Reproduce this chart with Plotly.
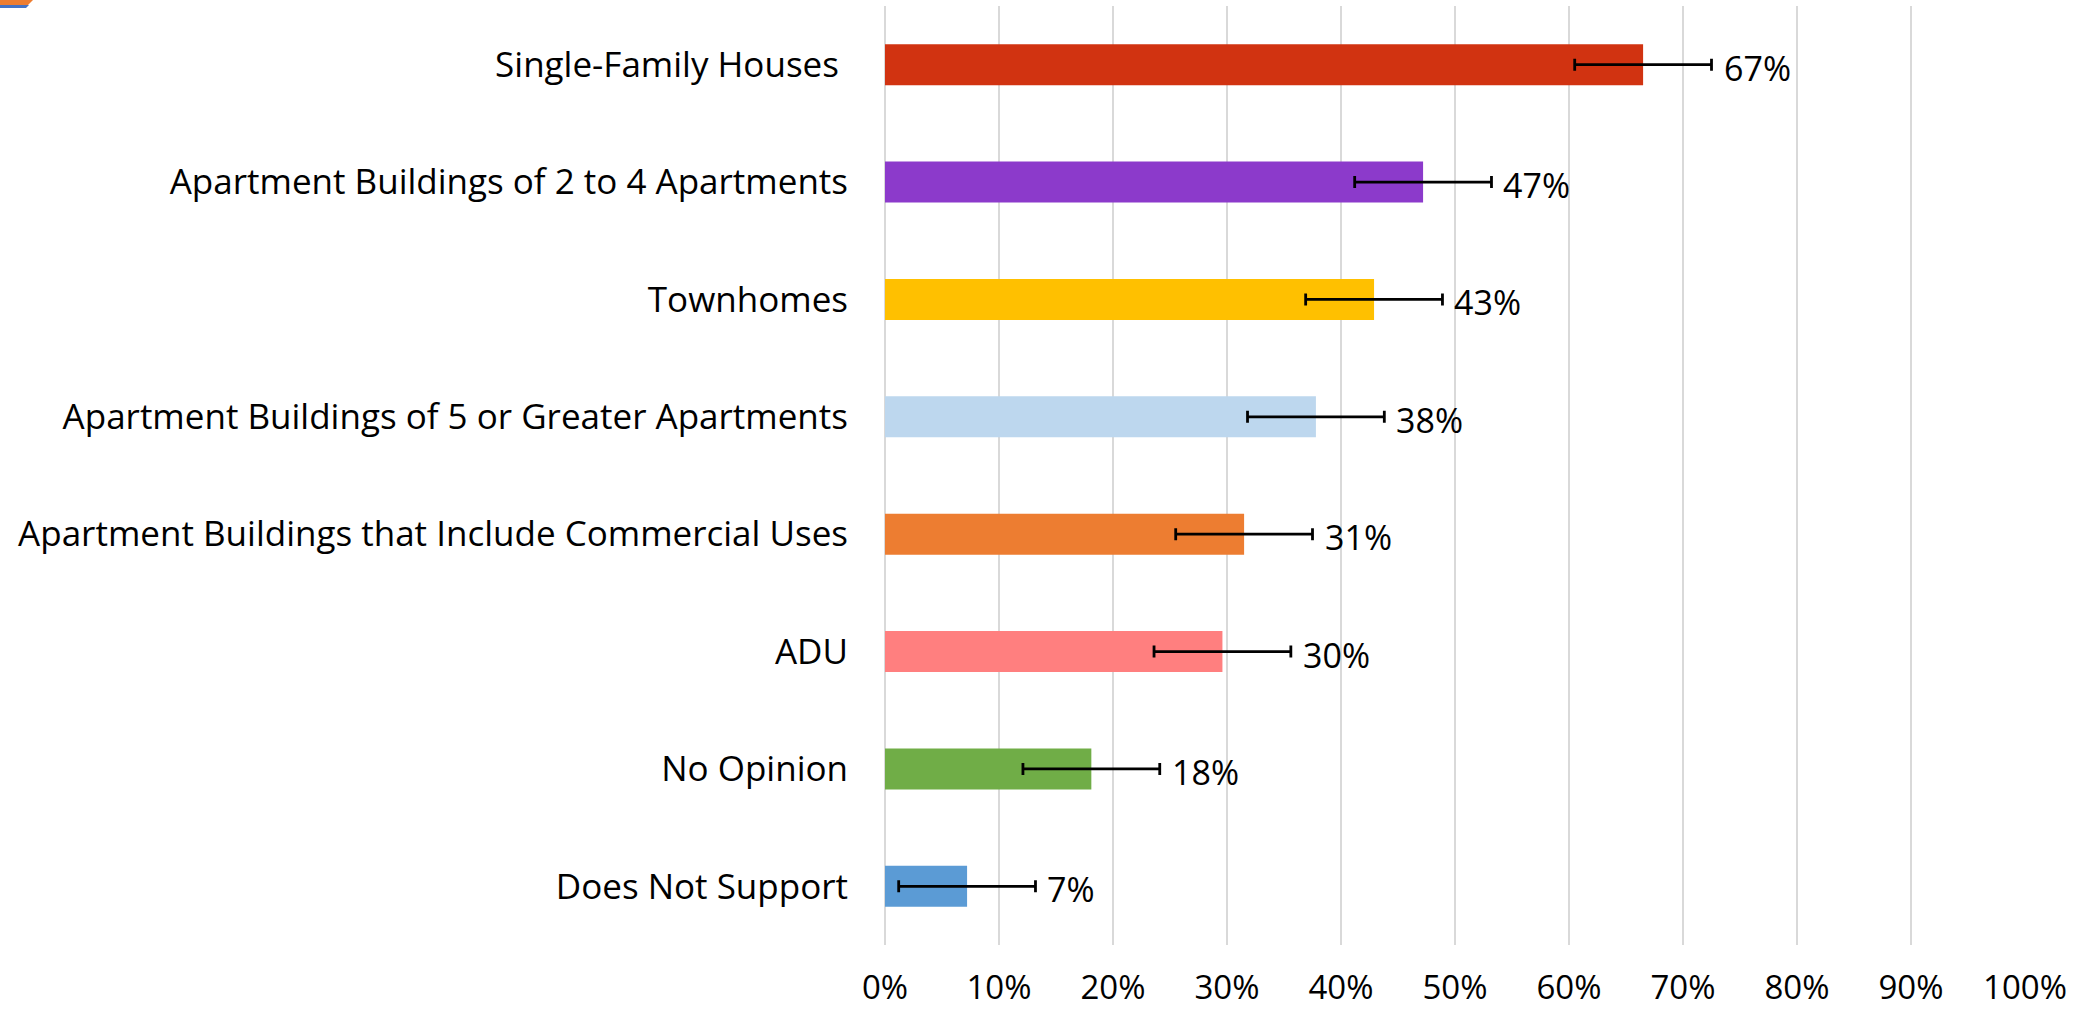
import plotly.graph_objects as go

categories = [
    "Single-Family Houses\u00a0",
    "Apartment Buildings of 2 to 4 Apartments",
    "Townhomes",
    "Apartment Buildings of 5 or Greater Apartments",
    "Apartment Buildings that Include Commercial Uses",
    "ADU",
    "No Opinion",
    "Does Not Support",
]
values = [66.5, 47.2, 42.9, 37.8, 31.5, 29.6, 18.1, 7.2]
errors = [6.0, 6.0, 6.0, 6.0, 6.0, 6.0, 6.0, 6.0]
labels = ["67%", "47%", "43%", "38%", "31%", "30%", "18%", "7%"]
colors = ["#D13311", "#8C3ACB", "#FFC000", "#BDD7EE",
          "#ED7D31", "#FF7F7F", "#70AD47", "#5B9BD5"]
x_ticks = [0, 10, 20, 30, 40, 50, 60, 70, 80, 90, 100]
x_tick_text = ["0%", "10%", "20%", "30%", "40%", "50%",
               "60%", "70%", "80%", "90%", "100%"]

W, H = 2092, 1013
L, R, T, B = 885, 67, 6, 68
pw, ph = W - L - R, H - T - B

FONT = "Open Sans"

fig = go.Figure()
fig.add_trace(go.Bar(
    y=categories, x=values, orientation="h",
    marker=dict(color=colors, line=dict(width=0)),
    error_x=dict(type="data", array=errors, visible=True,
                 color="#000000", thickness=2.8, width=6),
    hoverinfo="skip",
))

for c, v, e, t in zip(categories, values, errors, labels):
    fig.add_annotation(x=v + e, y=c, text=t, showarrow=False,
                       xanchor="left", yanchor="middle", xshift=10, yshift=-3,
                       font=dict(family=FONT, size=34, color="#000000"))

def px(x):
    return (x - L) / pw

def py(y):
    return 1 - (y - T) / ph

orange = [(0, 0), (33, 0), (28, 5), (0, 5)]
blue = [(0, 5), (29, 5), (26, 8), (0, 8)]
for poly, col in [(orange, "#ED7D31"), (blue, "#4472C4")]:
    path = "M " + " L ".join(f"{px(a):.5f},{py(b):.5f}" for a, b in poly) + " Z"
    fig.add_shape(type="path", path=path, xref="paper", yref="paper",
                  fillcolor=col, line=dict(width=0), layer="above")

fig.update_layout(
    width=W, height=H,
    margin=dict(l=L, r=R, t=T, b=B, autoexpand=False),
    paper_bgcolor="white", plot_bgcolor="white",
    showlegend=False, bargap=0.65,
    font=dict(family=FONT, size=32, color="#000000"),
    xaxis=dict(range=[0, 100], tickmode="array", tickvals=x_ticks,
               ticktext=x_tick_text,
               showgrid=True, gridcolor="#D9D9D9", gridwidth=2,
               zeroline=True, zerolinecolor="#D9D9D9", zerolinewidth=2,
               showline=False, ticks="", ticklabelstandoff=20,
               tickfont=dict(family=FONT, size=33, color="#000000"),
               automargin=False, fixedrange=True),
    yaxis=dict(autorange="reversed", showgrid=False, showline=False,
               ticks="", ticklabelstandoff=36,
               tickfont=dict(family=FONT, size=35, color="#000000"),
               automargin=False, fixedrange=True),
)

fig.write_html("out.html", config={"displayModeBar": False},
               post_script="document.body.style.margin='0';document.body.style.padding='0';")
